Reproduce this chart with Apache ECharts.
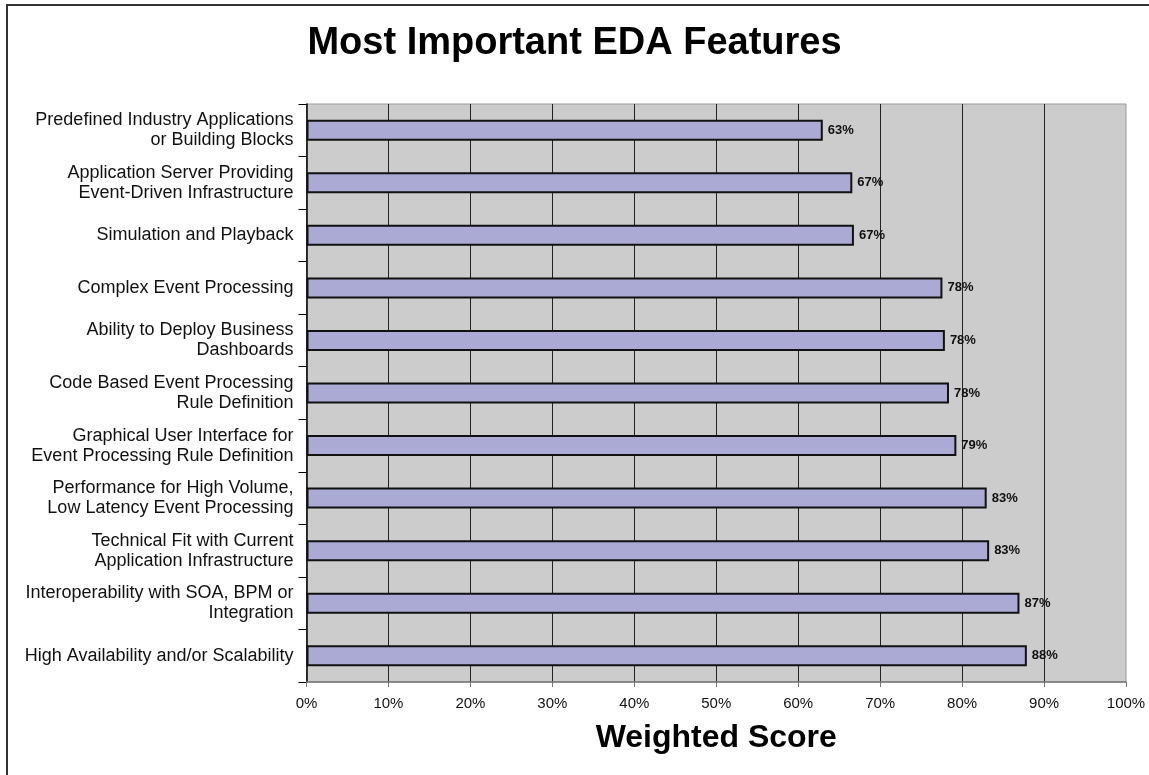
<!DOCTYPE html>
<html>
<head>
<meta charset="utf-8">
<title>Most Important EDA Features</title>
<script src="https://cdn.jsdelivr.net/npm/echarts@6/dist/echarts.min.js"></script>
<style>
  html, body { margin: 0; padding: 0; background: #fff; }
  #chart { width: 1149px; height: 775px; }
</style>
</head>
<body>
<div id="chart"></div>
<script>
// categories, top to bottom
var features = [
  'Predefined Industry Applications\nor Building Blocks',
  'Application Server Providing\nEvent-Driven Infrastructure',
  'Simulation and Playback',
  'Complex Event Processing',
  'Ability to Deploy Business\nDashboards',
  'Code Based Event Processing\nRule Definition',
  'Graphical User Interface for\nEvent Processing Rule Definition',
  'Performance for High Volume,\nLow Latency Event Processing',
  'Technical Fit with Current\nApplication Infrastructure',
  'Interoperability with SOA, BPM or\nIntegration',
  'High Availability and/or Scalability'
];
// weighted score in percent
var scores = [63.0, 66.6, 66.8, 77.6, 77.9, 78.4, 79.3, 83.0, 83.3, 87.0, 87.9];

var FONT = '"Liberation Sans", Arial, sans-serif';

var chart = echarts.init(document.getElementById('chart'));
chart.setOption({
  animation: false,
  backgroundColor: '#fff',
  title: {
    text: 'Most Important EDA Features',
    left: 'center',
    top: 20,
    textStyle: { fontFamily: FONT, fontSize: 38, fontWeight: 'bold', color: '#000' }
  },
  graphic: [{
    type: 'rect',
    shape: { x: 7, y: 5, width: 1300, height: 900 },
    style: { fill: 'none', stroke: '#333', lineWidth: 2 },
    silent: true
  }],
  grid: {
    left: 306.5,
    right: 23,
    top: 104,
    bottom: 93,
    show: true,
    backgroundColor: '#cccccc',
    borderColor: '#999',
    borderWidth: 1
  },
  xAxis: {
    type: 'value',
    min: 0,
    max: 100,
    interval: 10,
    name: 'Weighted Score',
    nameLocation: 'middle',
    nameGap: 40,
    nameTextStyle: { fontFamily: FONT, fontSize: 32, fontWeight: 'bold', color: '#000', lineHeight: 32 },
    axisLine: { show: true, lineStyle: { color: '#777', width: 1.5 } },
    axisTick: { show: true, length: 5, lineStyle: { color: '#777' } },
    axisLabel: { fontFamily: FONT, fontSize: 15, color: '#111', margin: 14, formatter: '{value}%' },
    splitLine: { show: true, showMinLine: false, showMaxLine: false, lineStyle: { color: '#222', width: 1 } }
  },
  yAxis: {
    type: 'category',
    inverse: true,
    data: features,
    axisLine: { show: true, lineStyle: { color: '#000', width: 1.5 } },
    axisTick: { show: true, length: 8, lineStyle: { color: '#000' } },
    axisLabel: { fontFamily: FONT, fontSize: 18, color: '#111', lineHeight: 20, margin: 13, align: 'right' },
    splitLine: { show: false }
  },
  series: [{
    type: 'bar',
    data: scores,
    barWidth: 21,
    itemStyle: { color: '#aaaad5', borderColor: '#111', borderWidth: 2 },
    label: {
      show: true,
      position: 'right',
      distance: 5,
      fontFamily: FONT,
      fontSize: 13,
      fontWeight: 'bold',
      color: '#111',
      formatter: function (p) { return Math.round(p.value) + '%'; }
    }
  }]
});
</script>
</body>
</html>
